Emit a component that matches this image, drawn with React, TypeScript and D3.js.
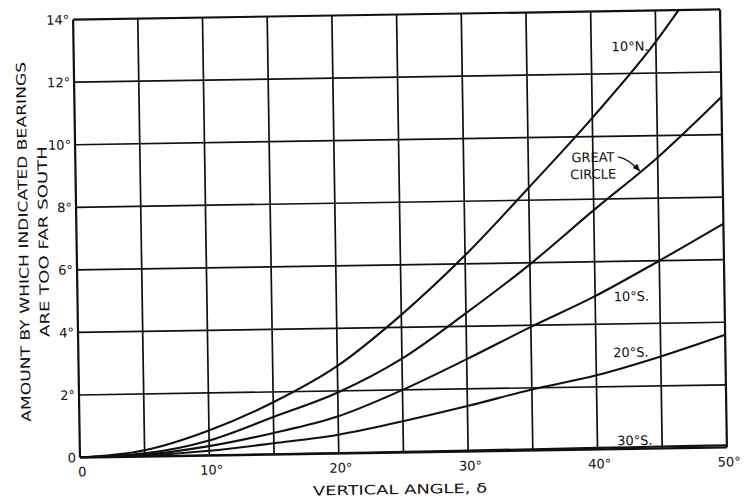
import React from "react";
import * as d3 from "d3";

const angles = [0, 5, 10, 15, 20, 25, 30, 35, 40, 45, 50];
const n10Angles = [0, 5, 10, 15, 20, 25, 30, 35, 40, 45, 46.8];
const n10Values = [0, 0.2, 0.8, 1.67, 2.8, 4.4, 6.27, 8.4, 10.6, 13.0, 14];
const greatCircleValues = [0, 0.1, 0.48, 1.2, 1.95, 3.0, 4.42, 5.95, 7.65, 9.3, 11.2];
const s10Values = [0, 0.06, 0.3, 0.69, 1.19, 2.0, 2.95, 3.95, 4.9, 6.0, 7.15];
const s20Values = [0, 0.03, 0.15, 0.36, 0.6, 1.0, 1.45, 1.95, 2.37, 2.94, 3.6];
const s30Values = [0, 0, 0.005, 0.01, 0.015, 0.02, 0.03, 0.04, 0.05, 0.06, 0.07];

const xGrid = [0, 5, 10, 15, 20, 25, 30, 35, 40, 45, 50];
const yGrid = [0, 2, 4, 6, 8, 10, 12, 14];
const xTicks = [0, 10, 20, 30, 40, 50];
const xTickLabels = ["0", "10°", "20°", "30°", "40°", "50°"];
const yTickLabels = ["0", "2°", "4°", "6°", "8°", "10°", "12°", "14°"];

const FONT = "'DejaVu Sans', sans-serif";
const INK = "#111";

export default function App() {
  const x = d3.scaleLinear().domain([0, 50]).range([76.5, 723.5]);
  const y = d3.scaleLinear().domain([0, 14]).range([452.5, 14.5]);

  const line = d3
    .line<[number, number]>()
    .x((d) => x(d[0]))
    .y((d) => y(d[1]))
    .curve(d3.curveMonotoneX);

  const zip = (xs: number[], ys: number[]) =>
    xs.map((v, i) => [v, ys[i]] as [number, number]);

  const series = [
    zip(n10Angles, n10Values),
    zip(angles, greatCircleValues),
    zip(angles, s10Values),
    zip(angles, s20Values),
    zip(angles, s30Values),
  ];

  const arrowStart: [number, number] = [x(41.95), y(9.34)];
  const arrowEnd: [number, number] = [x(43.6), y(8.88)];

  return (
    <svg
      width={752}
      height={502}
      style={{ position: "absolute", left: 0, top: 0, background: "#fff" }}
    >
      <defs>
        <marker
          id="ah"
          viewBox="0 0 10 10"
          refX="9"
          refY="5"
          markerWidth="6"
          markerHeight="6"
          orient="auto"
        >
          <path d="M0,1 L10,5 L0,9 z" fill={INK} />
        </marker>
        <clipPath id="plotclip">
          <rect x={x(0)} y={y(14) - 1} width={x(50) - x(0)} height={y(0) - y(14) + 1} />
        </clipPath>
      </defs>
      <rect width={752} height={502} fill="#fff" />
      <g transform="rotate(-0.9 400 233.5)">
        {xGrid.map((v) => (
          <line
            key={"gx" + v}
            x1={x(v)}
            x2={x(v)}
            y1={y(0)}
            y2={y(14)}
            stroke={INK}
            strokeWidth={v === 0 || v === 50 ? 2.2 : 1.7}
          />
        ))}
        {yGrid.map((v) => (
          <line
            key={"gy" + v}
            x1={x(0)}
            x2={x(50)}
            y1={y(v)}
            y2={y(v)}
            stroke={INK}
            strokeWidth={v === 0 || v === 14 ? 2.2 : 1.7}
          />
        ))}

        <g clipPath="url(#plotclip)">
          {series.map((s, i) => (
            <path
              key={"s" + i}
              d={line(s) || ""}
              fill="none"
              stroke={INK}
              strokeWidth={2.1}
            />
          ))}
        </g>

        {xTicks.map((v, i) => (
          <text
            key={"xt" + v}
            x={x(v) + 2}
            y={y(0) + 19}
            textAnchor="middle"
            fontFamily={FONT}
            fontSize={13}
            fill={INK}
          >
            {xTickLabels[i]}
          </text>
        ))}
        {yGrid.map((v, i) => (
          <text
            key={"yt" + v}
            x={x(0) - 4}
            y={y(v)}
            dy="0.36em"
            textAnchor="end"
            fontFamily={FONT}
            fontSize={13}
            fill={INK}
          >
            {yTickLabels[i]}
          </text>
        ))}

        <text
          x={396}
          y={494}
          textAnchor="middle"
          fontFamily={FONT}
          fontSize={13}
          fill={INK}
          textLength={174}
          lengthAdjust="spacingAndGlyphs"
        >
          VERTICAL ANGLE, δ
        </text>
        <text
          transform="translate(28,236) rotate(-90)"
          textAnchor="middle"
          fontFamily={FONT}
          fontSize={13}
          fill={INK}
          textLength={360}
          lengthAdjust="spacingAndGlyphs"
        >
          AMOUNT BY WHICH INDICATED BEARINGS
        </text>
        <text
          transform="translate(48,236) rotate(-90)"
          textAnchor="middle"
          fontFamily={FONT}
          fontSize={13}
          fill={INK}
          textLength={191}
          lengthAdjust="spacingAndGlyphs"
        >
          ARE TOO FAR SOUTH
        </text>

        <text x={x(43.0)} y={y(12.72)} textAnchor="middle" fontFamily={FONT} fontSize={13} fill={INK}>
          10°N.
        </text>
        <text x={x(40.0)} y={y(9.19)} textAnchor="middle" fontFamily={FONT} fontSize={13} fill={INK}>
          GREAT
        </text>
        <text x={x(40.0)} y={y(8.65)} textAnchor="middle" fontFamily={FONT} fontSize={13} fill={INK}>
          CIRCLE
        </text>
        <path
          d={`M${arrowStart[0]},${arrowStart[1]} Q${arrowStart[0] + 10},${arrowStart[1] + 2} ${arrowEnd[0]},${arrowEnd[1]}`}
          fill="none"
          stroke={INK}
          strokeWidth={1.3}
          markerEnd="url(#ah)"
        />
        <text x={x(42.8)} y={y(4.73)} textAnchor="middle" fontFamily={FONT} fontSize={13} fill={INK}>
          10°S.
        </text>
        <text x={x(42.7)} y={y(2.94)} textAnchor="middle" fontFamily={FONT} fontSize={13} fill={INK}>
          20°S.
        </text>
        <text x={x(42.9)} y={y(0.12)} textAnchor="middle" fontFamily={FONT} fontSize={13} fill={INK}>
          30°S.
        </text>
      </g>
    </svg>
  );
}
